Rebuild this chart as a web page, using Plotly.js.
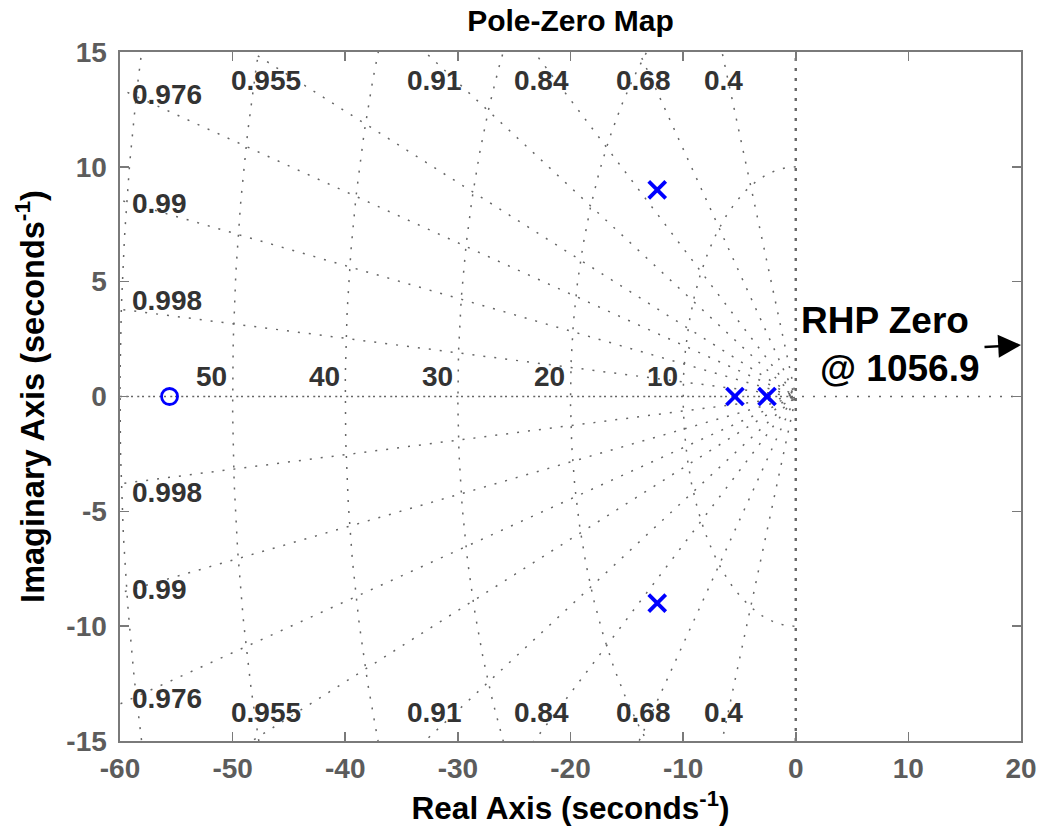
<!DOCTYPE html>
<html>
<head>
<meta charset="utf-8">
<script src="https://cdn.plot.ly/plotly-3.0.1.min.js"></script>
<style>html,body{margin:0;padding:0;background:#fff;}#chart{width:1040px;height:838px;}</style>
</head>
<body>
<div id="chart"></div>
<script>
// ---- data ----
const poleRe = [-12.3, -12.3, -5.4, -2.55];
const poleIm = [9.0, -9.0, 0, 0];
const zeroRe = [-55.6];
const zeroIm = [0];
const dampingValues = [0.4, 0.68, 0.84, 0.91, 0.955, 0.976, 0.99, 0.998];
const dampingLabels = ['0.4', '0.68', '0.84', '0.91', '0.955', '0.976', '0.99', '0.998'];
const freqValues = [10, 20, 30, 40, 50, 60];
const freqLabelValues = [10, 20, 30, 40, 50];
const freqLabels = ['10', '20', '30', '40', '50'];
const xTickVals = [-60, -50, -40, -30, -20, -10, 0, 10, 20];
const xTickText = ['-60', '-50', '-40', '-30', '-20', '-10', '0', '10', '20'];
const yTickVals = [-15, -10, -5, 0, 5, 10, 15];
const yTickText = ['-15', '-10', '-5', '0', '5', '10', '15'];
const rhpText1 = 'RHP Zero';
const rhpText2 = '@ 1056.9';

// ---- styles ----
const FAM = 'Liberation Sans, Arial, sans-serif';
const gridColor = '#666666';
const gridDash = '2px,9px';
const labelFont = {family: FAM, size: 28, color: '#333333', weight: 'bold'};
const xRange = [-60, 20], yRange = [-15, 15];

const traces = [];
// frequency circles
freqValues.forEach(wn => {
  const xs = [], ys = [];
  for (let i = 0; i <= 360; i++) {
    const t = Math.PI / 2 + Math.PI * i / 360;
    xs.push(wn * Math.cos(t)); ys.push(wn * Math.sin(t));
  }
  traces.push({x: xs, y: ys, mode: 'lines', hoverinfo: 'skip', showlegend: false,
    line: {color: gridColor, width: 1.5, dash: gridDash}});
});
// damping lines
const R = 120;
dampingValues.forEach(z => {
  const s = Math.sqrt(1 - z * z);
  traces.push({x: [-R * z, 0, -R * z], y: [R * s, 0, -R * s], mode: 'lines', hoverinfo: 'skip', showlegend: false,
    line: {color: gridColor, width: 1.5, dash: gridDash}});
});
// zeta = 1 (negative real axis) and real axis line
traces.push({x: [-R, 0], y: [0, 0], mode: 'lines', hoverinfo: 'skip', showlegend: false,
  line: {color: gridColor, width: 1.5, dash: '2px,9px'}});
traces.push({x: [xRange[0], xRange[1]], y: [0, 0], mode: 'lines', hoverinfo: 'skip', showlegend: false,
  line: {color: gridColor, width: 1.7, dash: '2px,9px'}});
// imaginary axis (zeta = 0)
traces.push({x: [0, 0], y: [yRange[0], yRange[1]], mode: 'lines', hoverinfo: 'skip', showlegend: false,
  line: {color: gridColor, width: 2.4, dash: '3px,7px'}});

// zeros and poles
traces.push({x: zeroRe, y: zeroIm, mode: 'markers', showlegend: false, name: 'zero',
  marker: {symbol: 'circle-open', size: 16, color: '#0000ff', line: {color: '#0000ff', width: 2.8}}});
traces.push({x: poleRe, y: poleIm, mode: 'markers', showlegend: false, name: 'pole',
  marker: {symbol: 'x-thin-open', size: 17, color: '#0000ff', line: {color: '#0000ff', width: 3.8}}});

// ---- grid labels ----
const annotations = [];
dampingValues.forEach((z, i) => {
  const s = Math.sqrt(1 - z * z);
  const cot = z / s;
  if (15 * cot <= 58) {
    const xl = -14.6 * cot;
    [13.75, -13.75].forEach(yl => annotations.push({x: xl, y: yl, xref: 'x', yref: 'y', text: dampingLabels[i],
      showarrow: false, xanchor: 'center', yanchor: 'middle', font: labelFont}));
  } else {
    const yl = Math.max(59 * s / z, 4.2);
    [yl, -yl].forEach(y => annotations.push({x: -59.1, y: y, xref: 'x', yref: 'y', text: dampingLabels[i],
      showarrow: false, xanchor: 'left', yanchor: 'middle', font: labelFont}));
  }
});
freqLabelValues.forEach((wn, i) => {
  annotations.push({x: -wn - 1.85, y: 0.85, xref: 'x', yref: 'y', text: freqLabels[i],
    showarrow: false, xanchor: 'center', yanchor: 'middle', font: labelFont});
});
const rhpFont = {family: FAM, size: 37, color: '#000000', weight: 'bold'};
annotations.push({x: 7.9, y: 3.3, xref: 'x', yref: 'y', text: rhpText1, showarrow: false,
  xanchor: 'center', yanchor: 'middle', font: rhpFont});
annotations.push({x: 9.3, y: 1.22, xref: 'x', yref: 'y', text: rhpText2, showarrow: false,
  xanchor: 'center', yanchor: 'middle', font: rhpFont});
annotations.push({x: 20, y: 2.24, xref: 'x', yref: 'y', text: '', showarrow: true, ax: -38, ay: 2,
  arrowhead: 2, arrowsize: 1.9, arrowwidth: 2.4, arrowcolor: '#000000', standoff: 0});

const axisCommon = {
  showline: true, linecolor: '#7a7a7a', linewidth: 1.6, mirror: 'ticks',
  ticks: 'inside', ticklen: 9, tickwidth: 1.6, tickcolor: '#7a7a7a',
  showgrid: false, zeroline: false, automargin: false,
  tickfont: {family: FAM, size: 28, color: '#5c5c5c', weight: 'bold'}
};
const layout = {
  width: 1040, height: 838,
  margin: {l: 119.5, r: 18.5, t: 52, b: 97},
  paper_bgcolor: '#ffffff', plot_bgcolor: '#ffffff',
  title: {text: 'Pole-Zero Map', xref: 'paper', x: 0.5, xanchor: 'center', yref: 'container', y: 0.976, yanchor: 'middle',
    font: {family: FAM, size: 30, color: '#000000', weight: 'bold'}},
  xaxis: Object.assign({}, axisCommon, {range: xRange, tickvals: xTickVals, ticktext: xTickText,
    ticklabelstandoff: 2,
    title: {text: 'Real Axis (seconds<sup>-1</sup>)', standoff: 14,
      font: {family: FAM, size: 31.5, color: '#000000', weight: 'bold'}}}),
  yaxis: Object.assign({}, axisCommon, {range: yRange, tickvals: yTickVals, ticktext: yTickText,
    ticklabelstandoff: 6,
    title: {text: 'Imaginary Axis (seconds<sup>-1</sup>)', standoff: 12,
      font: {family: FAM, size: 32.5, color: '#000000', weight: 'bold'}}}),
  annotations: annotations
};
Plotly.newPlot('chart', traces, layout, {staticPlot: true, displayModeBar: false});
</script>
</body>
</html>
